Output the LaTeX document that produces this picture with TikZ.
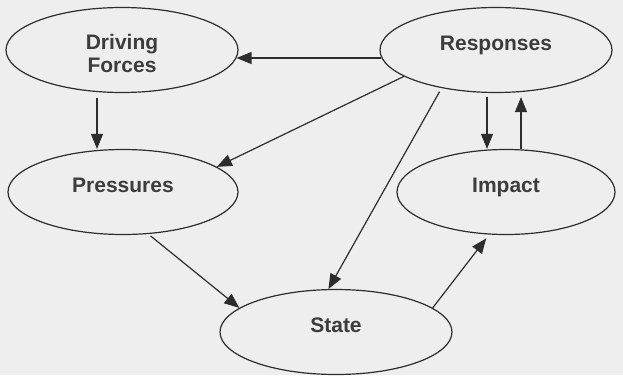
\documentclass[tikz,border=0pt]{standalone}
\usepackage{fontspec}
\setmainfont{Liberation Sans}
\usetikzlibrary{arrows.meta,shapes.geometric}
\definecolor{bg}{RGB}{238,238,238}
\definecolor{ink}{RGB}{45,45,45}
\definecolor{txt}{RGB}{60,60,60}

\begin{document}
\begin{tikzpicture}[x=1pt,y=-1pt,
  main/.style = {draw=ink, ellipse, line width=1.2pt, minimum width=232pt, minimum height=85pt, inner sep=0pt,
    text=txt, font=\fontsize{21}{23}\selectfont\bfseries, align=center, text depth=14pt},
  arr/.style = {draw=ink, line width=1.2pt, -{Triangle[length=15pt,width=12pt]}}]
\fill[bg] (0,0) rectangle (623,375);
\useasboundingbox (0,0) rectangle (623,375);
\node[main, text height=48pt, text depth=3pt] (df) at (122,50) {Driving\\Forces};
\node[main] (r) at (496,50) {Responses};
\node[main, minimum width=230pt] (p) at (123,192) {Pressures};
\node[main, minimum width=218pt] (i) at (506,192) {Impact};
\node[main] (s) at (336,332) {State};
\draw[arr] (r.184) -- (df.-4);
\draw[arr] ([xshift=-25pt,yshift=-5pt]df.south) -- ([xshift=-26pt]p.north);
\draw[arr] (r.196) -- (p.15);
\draw[arr, shorten <=4pt] (r.215) -- (s.100);
\draw[arr] ([xshift=-9pt,yshift=-4pt]r.south) -- ([xshift=-19pt]i.north);
\draw[arr] ([xshift=15pt]i.north) -- ([xshift=25pt,yshift=-4pt]r.south);
\draw[arr, shorten <=3pt] (p.-59) -- (s.166);
\draw[arr] (s.14) -- ([yshift=-4pt]i.245);
\end{tikzpicture}
\end{document}
